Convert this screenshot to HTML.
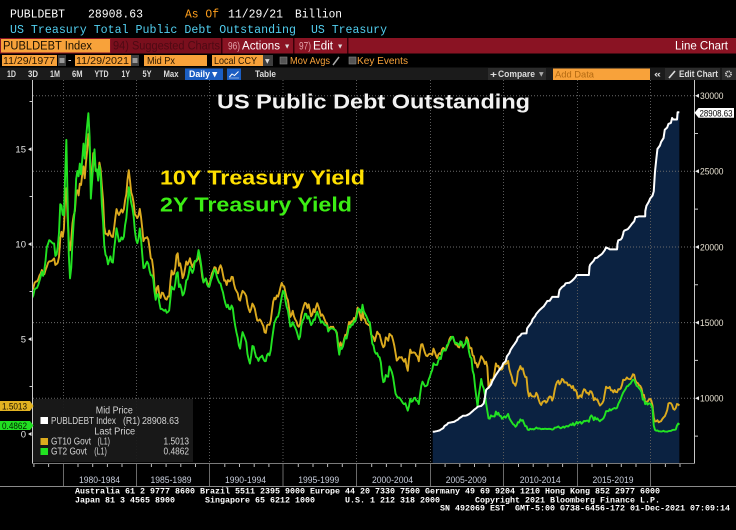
<!DOCTYPE html>
<html><head><meta charset="utf-8"><style>
html,body{margin:0;padding:0;background:#000;}
svg{display:block}
text{font-family:"Liberation Sans",sans-serif}
.mono{font-family:"Liberation Mono",monospace}
.dv{font-family:"DejaVu Sans",sans-serif}
</style></head><body>
<svg xmlns="http://www.w3.org/2000/svg" width="736" height="530" viewBox="0 0 736 530">
<defs><clipPath id="plot"><rect x="33" y="80" width="661" height="383"/></clipPath></defs>
<rect width="736" height="530" fill="#000"/>

<!-- header lines -->
<g class="mono" font-size="11.6" fill="#fff">
<text x="10" y="17.5" class="mono" textLength="55" lengthAdjust="spacingAndGlyphs">PUBLDEBT</text>
<text x="88" y="17.5" class="mono" textLength="55" lengthAdjust="spacingAndGlyphs">28908.63</text>
<text x="185" y="17.5" class="mono" fill="#ff9f1c" textLength="34" lengthAdjust="spacingAndGlyphs">As Of</text>
<text x="228" y="17.5" class="mono" textLength="55" lengthAdjust="spacingAndGlyphs">11/29/21</text>
<text x="295" y="17.5" class="mono" textLength="47" lengthAdjust="spacingAndGlyphs">Billion</text>
<text x="10" y="33" class="mono" fill="#52cff0" textLength="286" lengthAdjust="spacingAndGlyphs">US Treasury Total Public Debt Outstanding</text>
<text x="311" y="33" class="mono" fill="#52cff0" textLength="76" lengthAdjust="spacingAndGlyphs">US Treasury</text>
</g>

<!-- red bar -->
<rect x="0" y="38" width="736" height="15.5" fill="#8a1323"/>
<rect x="111" y="38" width="110" height="15.5" fill="#7a0f1d"/>
<rect x="1" y="39" width="109" height="13.5" fill="#f8a23a"/>
<rect x="221" y="38" width="1.5" height="15.5" fill="#3a0008"/>
<rect x="293" y="38" width="1.5" height="15.5" fill="#3a0008"/>
<rect x="347" y="38" width="1.5" height="15.5" fill="#3a0008"/>
<text x="3" y="49.5" font-size="11.5" fill="#1a1000" textLength="89" lengthAdjust="spacingAndGlyphs">PUBLDEBT Index</text>
<text x="113" y="49.5" font-size="11.5" fill="#4e0a14" textLength="107" lengthAdjust="spacingAndGlyphs">94) Suggested Charts</text>
<text x="228" y="49.5" font-size="11" fill="#e3a3ab" textLength="12" lengthAdjust="spacingAndGlyphs">96)</text>
<text x="242" y="49.5" font-size="11.5" fill="#fff" textLength="38" lengthAdjust="spacingAndGlyphs">Actions</text>
<text x="285" y="48" font-size="5.5" fill="#ddd" class="dv">▼</text>
<text x="299" y="49.5" font-size="11" fill="#e3a3ab" textLength="12" lengthAdjust="spacingAndGlyphs">97)</text>
<text x="313" y="49.5" font-size="11.5" fill="#fff" textLength="20" lengthAdjust="spacingAndGlyphs">Edit</text>
<text x="338" y="48" font-size="5.5" fill="#ddd" class="dv">▼</text>
<text x="675" y="49.5" font-size="12" fill="#fff" textLength="53" lengthAdjust="spacingAndGlyphs">Line Chart</text>

<!-- row 2 -->
<g font-size="10.5" fill="#2a1800">
<rect x="2" y="55" width="55" height="11" fill="#f8a23a"/>
<text x="3" y="64" textLength="52" lengthAdjust="spacingAndGlyphs">11/29/1977</text>
<rect x="58" y="55" width="8" height="11" fill="#3e3e3e"/><rect x="59.5" y="58" width="5" height="5" fill="#999"/>
<text x="68" y="63.5" fill="#fff">-</text>
<rect x="75" y="55" width="56" height="11" fill="#f8a23a"/>
<text x="76" y="64" textLength="53" lengthAdjust="spacingAndGlyphs">11/29/2021</text>
<rect x="131" y="55" width="8" height="11" fill="#3e3e3e"/><rect x="132.5" y="58" width="5" height="5" fill="#999"/>
<rect x="144" y="55" width="63" height="11" fill="#f8a23a"/>
<text x="147" y="64" textLength="28" lengthAdjust="spacingAndGlyphs">Mid Px</text>
<rect x="212" y="55" width="51" height="11" fill="#f8a23a"/>
<text x="214" y="64" textLength="43" lengthAdjust="spacingAndGlyphs">Local CCY</text>
<rect x="263" y="55" width="10" height="11" fill="#3e3e3e"/>
<text x="265" y="63" font-size="6" fill="#ddd" class="dv">▼</text>
<rect x="280" y="57" width="7" height="7" fill="#555" stroke="#888" stroke-width="0.6"/>
<text x="290" y="64" fill="#f8a23a" textLength="40" lengthAdjust="spacingAndGlyphs">Mov Avgs</text>
<line x1="333" y1="65" x2="339" y2="57" stroke="#aaa" stroke-width="1.5"/>
<rect x="349" y="57" width="7" height="7" fill="#555" stroke="#888" stroke-width="0.6"/>
<text x="357" y="64" fill="#f8a23a" textLength="51" lengthAdjust="spacingAndGlyphs">Key Events</text>
</g>

<!-- row 3 -->
<rect x="0" y="67.5" width="736" height="12.5" fill="#1b1b1b"/>
<g font-size="9" font-weight="bold" fill="#dcdcdc">
<text x="7" y="77" textLength="9" lengthAdjust="spacingAndGlyphs">1D</text>
<text x="28" y="77" textLength="10" lengthAdjust="spacingAndGlyphs">3D</text>
<text x="50" y="77" textLength="10" lengthAdjust="spacingAndGlyphs">1M</text>
<text x="72" y="77" textLength="10.5" lengthAdjust="spacingAndGlyphs">6M</text>
<text x="94.5" y="77" textLength="14" lengthAdjust="spacingAndGlyphs">YTD</text>
<text x="121.5" y="77" textLength="8.5" lengthAdjust="spacingAndGlyphs">1Y</text>
<text x="142.5" y="77" textLength="9" lengthAdjust="spacingAndGlyphs">5Y</text>
<text x="163.5" y="77" textLength="15" lengthAdjust="spacingAndGlyphs">Max</text>
<rect x="185" y="68.5" width="38" height="11.5" fill="#1b5ec2"/>
<text x="189" y="77" fill="#fff" textLength="21" lengthAdjust="spacingAndGlyphs">Daily</text>
<text x="212" y="76.5" font-size="7" fill="#fff" class="dv" font-weight="normal">▼</text>
<rect x="227" y="68.5" width="14" height="11.5" fill="#1b5ec2"/>
<polyline points="229.5,77 232,74 234.5,75.5 238.5,71.5" fill="none" stroke="#fff" stroke-width="1"/>
<line x1="229" y1="78" x2="239" y2="78" stroke="#cde" stroke-width="0.6"/>
<text x="255" y="77" textLength="21" lengthAdjust="spacingAndGlyphs">Table</text>
<rect x="488" y="68" width="58" height="12" fill="#2c2c2c"/>
<text x="490" y="77.5" textLength="7" lengthAdjust="spacingAndGlyphs">+</text>
<text x="498" y="77" textLength="37" lengthAdjust="spacingAndGlyphs">Compare</text>
<text x="539" y="76" font-size="6" fill="#aaa" class="dv" font-weight="normal">▼</text>
<rect x="553" y="68.5" width="97" height="11.5" fill="#f8a23a"/>
<text x="555" y="77.5" font-weight="normal" fill="#b36a12" textLength="39" lengthAdjust="spacingAndGlyphs">Add Data</text>
<text x="654" y="77" textLength="7" lengthAdjust="spacingAndGlyphs">«</text>
<rect x="665" y="68" width="55" height="12" fill="#2c2c2c"/>
<line x1="669" y1="78" x2="675" y2="71" stroke="#ddd" stroke-width="1.6"/>
<text x="679" y="77" textLength="39" lengthAdjust="spacingAndGlyphs">Edit Chart</text>
<rect x="722" y="68" width="14" height="12" fill="#2c2c2c"/>
<circle cx="728.5" cy="74" r="2.6" fill="none" stroke="#ccc" stroke-width="1.8" stroke-dasharray="1.3,0.7"/>
</g>

<!-- debt area -->
<g clip-path="url(#plot)">
<polygon transform="translate(19.857,549.6) scale(1.22375,-0.01513)" fill="#0b2241" points="337.4,7790 339,7800 341,7836 343,7880 344,7933 346,8030 347,8170 349,8270 350,8371 352,8400 353,8420 355,8450 356,8507 358,8590 359,8680 361,8780 362,8849 364,8850 365,8867 367,8950 368,9008 370,9150 371,9229 373,9350 374,9437 376,9480 377,9492 379,9650 380,10025 381,10550 382,10640 383,10700 385,10900 386,11127 388,11400 389,11545 391,11780 392,11910 393,12000 394,12100 395,12311 397,12450 398,12773 400,12990 401,13202 403,13450 404,13562 406,13800 407,14025 409,14150 410,14270 412,14294 414,14294 414.5,14620 416,14790 418,15000 419,15223 421,15420 422,15582 424,15770 425,15856 427,16000 428,16066 430,16300 431,16433 433,16450 435,16700 440,16700 440.7,17050 441,17156 443,17352 445,17460 446,17601 448,17630 449,17632 451,17750 452,17824 454,18000 455,18141 457,18150 458,18152 465,18152 465.5,18700 466,18827 467,18922 469,19100 470,19264 472,19300 473,19381 475,19500 476,19573 478,19800 479,19977 481,19900 482,19847 488,19847 488.3,20200 489,20442 491,20493 492,20600 493,20856 493.3,21000 494,21090 496,21150 497,21195 499,21400 500,21516 502,21700 503,21974 505,22000 506,22028 511,22028 511.1,22380 512,22719 514,23000 515,23201 517,23400 518,23686 519,24974 520,25747 521,26477 523,26700 524,26945 526,27200 527,27748 529,27900 530,28133 532,28200 533,28530 534,28427 537,28428 537.5,28908 538.9,28908.63 538.9,5600 337.4,5600"/>
</g>

<!-- grid -->
<g stroke="#6b6b6b" stroke-width="1" stroke-dasharray="1,2">
<line x1="33" y1="95.7" x2="694" y2="95.7"/>
<line x1="33" y1="171.3" x2="694" y2="171.3"/>
<line x1="33" y1="247" x2="694" y2="247"/>
<line x1="33" y1="322.6" x2="694" y2="322.6"/>
<line x1="33" y1="398.3" x2="694" y2="398.3"/>
</g>
<g stroke="#5a5a5a" stroke-width="1" stroke-dasharray="1,2">
<line x1="63.5" y1="80" x2="63.5" y2="463"/>
<line x1="136.5" y1="80" x2="136.5" y2="463"/>
<line x1="209.5" y1="80" x2="209.5" y2="463"/>
<line x1="283" y1="80" x2="283" y2="463"/>
<line x1="356.5" y1="80" x2="356.5" y2="463"/>
<line x1="430.5" y1="80" x2="430.5" y2="463"/>
<line x1="503.5" y1="80" x2="503.5" y2="463"/>
<line x1="577.5" y1="80" x2="577.5" y2="463"/>
<line x1="650.5" y1="80" x2="650.5" y2="463"/>
</g>
<g stroke="#6a6a6a" stroke-width="1">
<line x1="63.5" y1="463" x2="63.5" y2="486"/>
<line x1="136.5" y1="463" x2="136.5" y2="486"/>
<line x1="209.5" y1="463" x2="209.5" y2="486"/>
<line x1="283" y1="463" x2="283" y2="486"/>
<line x1="356.5" y1="463" x2="356.5" y2="486"/>
<line x1="430.5" y1="463" x2="430.5" y2="486"/>
<line x1="503.5" y1="463" x2="503.5" y2="486"/>
<line x1="577.5" y1="463" x2="577.5" y2="486"/>
<line x1="650.5" y1="463" x2="650.5" y2="486"/>
</g>

<!-- yields -->
<g clip-path="url(#plot)" fill="none" stroke-linejoin="round">
<polyline transform="translate(19.857,434) scale(1.22375,-18.98)" vector-effect="non-scaling-stroke" stroke="#dcaa1e" stroke-width="1.9" points="10,7.58 11,7.69 12,7.96 13,8.03 14,8.04 15,8.15 16,8.35 17,8.46 18,8.64 19,8.41 20,8.42 21,8.64 22,8.81 23,9.01 24,9.10 25,9.10 26,9.12 27,9.18 28,9.25 29,8.91 30,8.95 31,9.03 32,9.33 33,10.30 34,10.65 35,10.39 36,10.80 37,12.41 38,12.95 39,11.47 40,10.18 41,9.68 42,10.25 43,11.10 44,11.51 45,11.75 46,12.68 47,12.84 48,12.57 49,13.19 50,13.12 51,13.68 52,14.10 53,13.47 54,14.28 55,14.94 56,15.80 57,15.15 58,13.39 59,13.72 60,14.80 61,14.43 62,13.86 63,13.87 64,13.62 65,14.30 66,13.95 67,13.06 68,12.34 69,10.91 70,10.55 71,10.54 72,10.46 73,10.72 74,10.51 75,10.40 76,10.38 77,10.85 78,11.38 79,11.85 80,11.65 81,11.54 82,11.69 83,11.83 84,11.67 85,11.84 86,12.32 87,12.63 88,13.41 89,13.90 90,13.36 91,12.72 92,12.52 93,12.16 94,11.57 95,11.50 96,11.38 97,11.51 98,11.86 99,11.43 100,10.85 101,10.16 102,10.31 103,10.33 104,10.37 105,10.24 106,9.78 107,9.26 108,9.19 109,8.70 110,7.78 111,7.30 112,7.71 113,7.80 114,7.30 115,7.17 116,7.45 117,7.43 118,7.25 119,7.11 120,7.08 121,7.25 122,7.25 123,8.02 124,8.61 125,8.40 126,8.45 127,8.76 128,9.42 129,9.52 130,8.86 131,8.99 132,8.67 133,8.21 134,8.37 135,8.72 136,9.09 137,8.92 138,9.06 139,9.26 140,8.98 141,8.80 142,8.96 143,9.11 144,9.09 145,9.17 146,9.36 147,9.18 148,8.86 149,8.28 150,8.02 151,8.11 152,8.19 153,8.01 154,7.87 155,7.84 156,8.21 157,8.47 158,8.59 159,8.79 160,8.76 161,8.48 162,8.47 163,8.75 164,8.89 165,8.72 166,8.39 167,8.08 168,8.09 169,7.85 170,8.11 171,8.04 172,8.07 173,8.28 174,8.27 175,7.90 176,7.65 177,7.53 178,7.42 179,7.09 180,7.03 181,7.34 182,7.54 183,7.48 184,7.39 185,7.26 186,6.84 187,6.59 188,6.42 189,6.59 190,6.87 191,6.77 192,6.60 193,6.26 194,5.98 195,5.97 196,6.04 197,5.96 198,5.81 199,5.68 200,5.36 201,5.33 202,5.72 203,5.77 204,5.75 205,5.97 206,6.48 207,6.97 208,7.18 209,7.10 210,7.30 211,7.24 212,7.46 213,7.74 214,7.96 215,7.81 216,7.78 217,7.47 218,7.20 219,7.06 220,6.63 221,6.17 222,6.28 223,6.49 224,6.20 225,6.04 226,5.93 227,5.71 228,5.65 229,5.81 230,6.27 231,6.51 232,6.74 233,6.91 234,6.87 235,6.64 236,6.83 237,6.53 238,6.20 239,6.30 240,6.58 241,6.42 242,6.69 243,6.89 244,6.71 245,6.49 246,6.22 247,6.30 248,6.21 249,6.03 250,5.88 251,5.81 252,5.54 253,5.57 254,5.65 255,5.64 256,5.65 257,5.50 258,5.46 259,5.34 260,4.81 261,4.53 262,4.83 263,4.65 264,4.72 265,5.00 266,5.23 267,5.18 268,5.54 269,5.90 270,5.79 271,5.94 272,5.92 273,6.11 274,6.03 275,6.28 276,6.66 277,6.52 278,6.26 279,5.99 280,6.44 281,6.10 282,6.05 283,5.83 284,5.80 285,5.74 286,5.72 287,5.24 288,5.16 289,5.10 290,4.89 291,5.14 292,5.39 293,5.28 294,5.24 295,4.97 296,4.73 297,4.57 298,4.65 299,5.09 300,5.04 301,4.91 302,5.28 303,5.21 304,5.16 305,4.93 306,4.65 307,4.26 308,3.87 309,3.94 310,4.05 311,4.03 312,4.05 313,3.90 314,3.81 315,3.96 316,3.57 317,3.33 318,3.98 319,4.45 320,4.27 321,4.29 322,4.30 323,4.27 324,4.15 325,4.08 326,3.83 327,4.35 328,4.72 329,4.73 330,4.50 331,4.28 332,4.13 333,4.10 334,4.19 335,4.23 336,4.22 337,4.17 338,4.50 339,4.34 340,4.14 341,4.00 342,4.18 343,4.26 344,4.20 345,4.46 346,4.54 347,4.47 348,4.42 349,4.57 350,4.72 351,4.99 352,5.11 353,5.11 354,5.09 355,4.88 356,4.72 357,4.73 358,4.60 359,4.56 360,4.76 361,4.72 362,4.56 363,4.69 364,4.75 365,5.10 366,5.00 367,4.67 368,4.52 369,4.53 370,4.15 371,4.10 372,3.74 373,3.74 374,3.51 375,3.68 376,3.88 377,4.10 378,4.01 379,3.89 380,3.69 381,3.81 382,3.53 383,2.42 384,2.52 385,2.87 386,2.82 387,2.93 388,3.29 389,3.72 390,3.56 391,3.59 392,3.40 393,3.39 394,3.40 395,3.59 396,3.73 397,3.69 398,3.73 399,3.85 400,3.42 401,3.20 402,3.01 403,2.70 404,2.65 405,2.54 406,2.76 407,3.29 408,3.39 409,3.58 410,3.41 411,3.46 412,3.17 413,3.00 414,3.00 415,2.30 416,1.98 417,2.15 418,2.01 419,1.98 420,1.97 421,1.97 422,2.17 423,2.05 424,1.80 425,1.62 426,1.53 427,1.68 428,1.72 429,1.75 430,1.65 431,1.72 432,1.91 433,1.98 434,1.96 435,1.76 436,1.93 437,2.30 438,2.58 439,2.74 440,2.81 441,2.62 442,2.72 443,2.90 444,2.86 445,2.71 446,2.72 447,2.71 448,2.56 449,2.60 450,2.54 451,2.42 452,2.53 453,2.30 454,2.33 455,2.21 456,1.88 457,1.98 458,2.04 459,1.94 460,2.20 461,2.36 462,2.32 463,2.17 464,2.17 465,2.07 466,2.26 467,2.24 468,2.09 469,1.78 470,1.89 471,1.81 472,1.81 473,1.64 474,1.50 475,1.56 476,1.63 477,1.76 478,2.14 479,2.49 480,2.43 481,2.42 482,2.48 483,2.30 484,2.30 485,2.19 486,2.32 487,2.21 488,2.20 489,2.36 490,2.35 491,2.40 492,2.58 493,2.86 494,2.84 495,2.87 496,2.98 497,2.91 498,2.89 499,2.89 500,3.00 501,3.15 502,3.12 503,2.83 504,2.71 505,2.68 506,2.57 507,2.53 508,2.40 509,2.07 510,2.06 511,1.63 512,1.70 513,1.71 514,1.81 515,1.86 516,1.76 517,1.50 518,0.87 519,0.66 520,0.67 521,0.73 522,0.62 523,0.65 524,0.68 525,0.79 526,0.87 527,0.93 528,1.08 529,1.26 530,1.61 531,1.64 532,1.62 533,1.52 534,1.32 535,1.28 536,1.37 537,1.58 538,1.56 538.9,1.50"/>
<polyline transform="translate(19.857,434) scale(1.22375,-18.98)" vector-effect="non-scaling-stroke" stroke="#22e322" stroke-width="1.9" points="10,7.16 11,7.30 12,7.61 13,7.67 14,7.70 15,7.85 16,8.07 17,8.30 18,8.54 19,8.33 20,8.64 21,9.14 22,9.84 23,10.01 24,10.21 25,10.17 26,10.10 27,10.04 28,10.04 29,9.38 30,9.46 31,9.86 32,10.61 33,12.11 34,12.04 35,11.55 36,11.53 37,13.61 38,15.50 39,12.41 40,9.43 41,8.20 42,8.77 43,10.11 44,11.19 45,11.92 46,13.43 47,13.86 48,13.58 49,14.25 50,13.68 51,14.47 52,15.30 53,14.51 54,15.54 55,16.25 56,16.90 57,15.65 58,12.40 59,13.29 60,14.32 61,15.00 62,13.85 63,13.94 64,13.35 65,14.14 66,13.61 67,12.08 68,11.18 69,9.91 70,9.45 71,9.33 72,8.94 73,9.16 74,9.36 75,9.07 76,9.03 77,9.72 78,10.26 79,10.84 80,10.50 81,10.14 82,10.17 83,10.36 84,10.25 85,10.40 86,11.01 87,11.37 88,12.13 89,13.00 90,12.57 91,12.18 92,11.91 93,11.46 94,10.70 95,10.24 96,10.05 97,10.30 98,10.83 99,10.27 100,9.48 101,8.74 102,8.77 103,8.96 104,9.08 105,8.96 106,8.61 107,8.37 108,8.36 109,8.17 110,7.52 111,7.07 112,7.34 113,7.37 114,6.91 115,6.59 116,6.59 117,6.54 118,6.49 119,6.55 120,6.39 121,6.43 122,6.51 123,7.13 124,7.77 125,7.64 126,7.61 127,7.92 128,8.45 129,8.52 130,7.74 131,7.88 132,7.65 133,7.30 134,7.39 135,7.66 136,8.10 137,8.16 138,8.44 139,8.82 140,8.65 141,8.49 142,8.66 143,9.10 144,9.11 145,9.27 146,9.69 147,9.40 148,8.98 149,8.47 150,7.98 151,8.10 152,8.20 153,7.88 154,7.76 155,7.79 156,8.06 157,8.24 158,8.47 159,8.67 160,8.57 161,8.29 162,8.11 163,7.97 164,7.92 165,7.66 166,7.46 167,7.13 168,6.87 169,6.68 170,6.81 171,6.59 172,6.57 173,6.77 174,6.63 175,6.09 176,5.69 177,5.35 178,5.08 179,4.66 180,4.50 181,5.02 182,5.37 183,5.21 184,5.04 185,4.84 186,4.21 187,3.93 188,3.71 189,4.11 190,4.64 191,4.61 192,4.32 193,4.06 194,4.01 195,3.85 196,4.02 197,4.06 198,4.13 199,3.95 200,3.84 201,3.84 202,4.16 203,4.24 204,4.14 205,4.42 206,4.96 207,5.41 208,5.85 209,6.01 210,6.15 211,6.19 212,6.45 213,6.87 214,7.23 215,7.54 216,7.48 217,7.05 218,6.70 219,6.52 220,6.10 221,5.66 222,5.70 223,5.89 224,5.74 225,5.61 226,5.45 227,5.22 228,4.99 229,5.14 230,5.72 231,5.96 232,6.08 233,6.34 234,6.33 235,6.08 236,6.20 237,5.95 238,5.74 239,5.84 240,6.03 241,6.01 242,6.29 243,6.44 244,6.22 245,6.09 246,5.86 247,5.94 248,5.86 249,5.76 250,5.72 251,5.72 252,5.40 253,5.50 254,5.56 255,5.56 256,5.55 257,5.51 258,5.46 259,5.27 260,4.62 261,4.18 262,4.57 263,4.48 264,4.61 265,4.90 266,5.11 267,5.03 268,5.33 269,5.70 270,5.62 271,5.77 272,5.75 273,5.94 274,5.92 275,6.13 276,6.48 277,6.60 278,6.53 279,6.40 280,6.81 281,6.48 282,6.34 283,6.23 284,6.08 285,5.91 286,5.88 287,5.35 288,4.76 289,4.66 290,4.34 291,4.23 292,4.26 293,4.08 294,4.04 295,3.76 296,3.12 297,2.73 298,2.78 299,3.11 300,3.03 301,3.02 302,3.56 303,3.42 304,3.26 305,2.99 306,2.56 307,2.13 308,2.00 309,1.91 310,1.92 311,1.84 312,1.74 313,1.63 314,1.57 315,1.62 316,1.42 317,1.23 318,1.47 319,1.86 320,1.70 321,1.73 322,1.89 323,1.91 324,1.76 325,1.74 326,1.58 327,2.07 328,2.53 329,2.76 330,2.64 331,2.51 332,2.53 333,2.58 334,2.85 335,3.01 336,3.22 337,3.38 338,3.73 339,3.65 340,3.64 341,3.64 342,3.87 343,4.04 344,3.95 345,4.27 346,4.42 347,4.40 348,4.40 349,4.67 350,4.73 351,4.89 352,4.97 353,5.12 354,5.12 355,4.90 356,4.77 357,4.80 358,4.74 359,4.67 360,4.88 361,4.85 362,4.57 363,4.67 364,4.77 365,4.96 366,4.82 367,4.34 368,4.06 369,3.99 370,3.34 371,3.12 372,2.48 373,1.97 374,1.45 375,2.05 376,2.45 377,2.90 378,2.57 379,2.42 380,2.08 381,1.61 382,1.21 383,0.82 384,0.81 385,0.98 386,0.93 387,0.93 388,0.92 389,1.18 390,1.02 391,1.12 392,0.96 393,0.95 394,0.80 395,0.87 396,0.93 397,0.86 398,0.96 399,1.06 400,0.83 401,0.72 402,0.62 403,0.52 404,0.48 405,0.38 406,0.45 407,0.62 408,0.61 409,0.77 410,0.70 411,0.73 412,0.56 413,0.41 414,0.41 415,0.23 416,0.21 417,0.28 418,0.25 419,0.26 420,0.24 421,0.28 422,0.34 423,0.29 424,0.29 425,0.29 426,0.25 427,0.27 428,0.26 429,0.28 430,0.27 431,0.26 432,0.27 433,0.27 434,0.26 435,0.23 436,0.25 437,0.33 438,0.34 439,0.36 440,0.40 441,0.34 442,0.30 443,0.34 444,0.39 445,0.33 446,0.40 447,0.42 448,0.39 449,0.45 450,0.51 451,0.47 452,0.57 453,0.45 454,0.53 455,0.64 456,0.55 457,0.62 458,0.64 459,0.54 460,0.61 461,0.69 462,0.67 463,0.70 464,0.71 465,0.64 466,0.88 467,0.98 468,0.90 469,0.73 470,0.88 471,0.77 472,0.82 473,0.73 474,0.67 475,0.74 476,0.77 477,0.84 478,0.98 479,1.20 480,1.21 481,1.20 482,1.31 483,1.24 484,1.30 485,1.34 486,1.37 487,1.34 488,1.38 489,1.58 490,1.71 491,1.84 492,2.03 493,2.18 494,2.28 495,2.38 496,2.51 497,2.53 498,2.61 499,2.65 500,2.77 501,2.86 502,2.86 503,2.68 504,2.54 505,2.50 506,2.41 507,2.34 508,2.21 509,1.81 510,1.84 511,1.57 512,1.65 513,1.55 514,1.61 515,1.61 516,1.52 517,1.33 518,0.45 519,0.22 520,0.17 521,0.19 522,0.14 523,0.14 524,0.13 525,0.14 526,0.17 527,0.13 528,0.13 529,0.12 530,0.15 531,0.16 532,0.16 533,0.20 534,0.22 535,0.22 536,0.24 537,0.45 538,0.55 538.9,0.49"/>
<polyline transform="translate(19.857,549.6) scale(1.22375,-0.01513)" vector-effect="non-scaling-stroke" stroke="#fff" stroke-width="2" points="337.4,7790 339,7800 341,7836 343,7880 344,7933 346,8030 347,8170 349,8270 350,8371 352,8400 353,8420 355,8450 356,8507 358,8590 359,8680 361,8780 362,8849 364,8850 365,8867 367,8950 368,9008 370,9150 371,9229 373,9350 374,9437 376,9480 377,9492 379,9650 380,10025 381,10550 382,10640 383,10700 385,10900 386,11127 388,11400 389,11545 391,11780 392,11910 393,12000 394,12100 395,12311 397,12450 398,12773 400,12990 401,13202 403,13450 404,13562 406,13800 407,14025 409,14150 410,14270 412,14294 414,14294 414.5,14620 416,14790 418,15000 419,15223 421,15420 422,15582 424,15770 425,15856 427,16000 428,16066 430,16300 431,16433 433,16450 435,16700 440,16700 440.7,17050 441,17156 443,17352 445,17460 446,17601 448,17630 449,17632 451,17750 452,17824 454,18000 455,18141 457,18150 458,18152 465,18152 465.5,18700 466,18827 467,18922 469,19100 470,19264 472,19300 473,19381 475,19500 476,19573 478,19800 479,19977 481,19900 482,19847 488,19847 488.3,20200 489,20442 491,20493 492,20600 493,20856 493.3,21000 494,21090 496,21150 497,21195 499,21400 500,21516 502,21700 503,21974 505,22000 506,22028 511,22028 511.1,22380 512,22719 514,23000 515,23201 517,23400 518,23686 519,24974 520,25747 521,26477 523,26700 524,26945 526,27200 527,27748 529,27900 530,28133 532,28200 533,28530 534,28427 537,28428 537.5,28908 538.9,28908.63"/>
</g>

<!-- axes -->
<line x1="32.5" y1="80" x2="32.5" y2="463.5" stroke="#c8c8c8" stroke-width="1"/>
<line x1="694.5" y1="80" x2="694.5" y2="463.5" stroke="#c8c8c8" stroke-width="1"/>
<line x1="32" y1="463.5" x2="695" y2="463.5" stroke="#7a7a7a" stroke-width="1"/>
<path stroke="#bdbdbd" stroke-width="1" d="M33.9 464V467M48.6 464V467M78 464V467M92.7 464V467M107.4 464V467M122 464V467M151.4 464V467M166.1 464V467M180.8 464V467M195.5 464V467M224.8 464V467M239.5 464V467M254.2 464V467M268.9 464V467M298.3 464V467M313 464V467M327.6 464V467M342.3 464V467M371.7 464V467M386.4 464V467M401.1 464V467M415.7 464V467M445.1 464V467M459.8 464V467M474.5 464V467M489.2 464V467M518.5 464V467M533.2 464V467M547.9 464V467M562.6 464V467M592 464V467M606.6 464V467M621.3 464V467M636 464V467M665.4 464V467M680 464V467"/>
<!-- left minor ticks -->
<path stroke="#c8c8c8" stroke-width="1" d="M29.5 101.5H32M29.5 196.5H32M29.5 291.5H32M29.5 386.5H32"/>
<g fill="#e6e6e6">
<polygon points="28,149.2 31.5,147.2 31.5,151.2"/>
<polygon points="28,244.1 31.5,242.1 31.5,246.1"/>
<polygon points="28,339.1 31.5,337.1 31.5,341.1"/>
<polygon points="28,434 31.5,432 31.5,436"/>
</g>
<g font-size="9.5" fill="#e4e4e4" text-anchor="end">
<text x="26" y="152.5">15</text>
<text x="26" y="247.5">10</text>
<text x="26" y="342.5">5</text>
<text x="26" y="437.5">0</text>
</g>
<!-- right axis -->
<path stroke="#c8c8c8" stroke-width="1" d="M695 133.5H698M695 209.1H698M695 284.8H698M695 360.4H698M695 436.1H698"/>
<g fill="#e6e6e6">
<polygon points="695,95.7 699,93.7 699,97.7"/>
<polygon points="695,171.3 699,169.3 699,173.3"/>
<polygon points="695,247 699,245 699,249"/>
<polygon points="695,322.6 699,320.6 699,324.6"/>
<polygon points="695,398.3 699,396.3 699,400.3"/>
</g>
<g font-size="9.5" fill="#e8e2d2">
<text x="700" y="99" textLength="23.5" lengthAdjust="spacingAndGlyphs">30000</text>
<text x="700" y="174.6" textLength="23.5" lengthAdjust="spacingAndGlyphs">25000</text>
<text x="700" y="250.3" textLength="23.5" lengthAdjust="spacingAndGlyphs">20000</text>
<text x="700" y="325.9" textLength="23.5" lengthAdjust="spacingAndGlyphs">15000</text>
<text x="700" y="401.6" textLength="23.5" lengthAdjust="spacingAndGlyphs">10000</text>
</g>
<polygon points="694.5,112.8 698.5,108 734,108 734,117.8 698.5,117.8" fill="#fff"/>
<text x="699.5" y="116.3" font-size="9.5" fill="#000" textLength="33" lengthAdjust="spacingAndGlyphs">28908.63</text>

<!-- x labels -->
<g font-size="9.5" fill="#c9cfdd" text-anchor="middle">
<text x="99.5" y="483" textLength="41" lengthAdjust="spacingAndGlyphs">1980-1984</text>
<text x="171" y="483" textLength="41" lengthAdjust="spacingAndGlyphs">1985-1989</text>
<text x="245.5" y="483" textLength="41" lengthAdjust="spacingAndGlyphs">1990-1994</text>
<text x="318.7" y="483" textLength="41" lengthAdjust="spacingAndGlyphs">1995-1999</text>
<text x="392.5" y="483" textLength="41" lengthAdjust="spacingAndGlyphs">2000-2004</text>
<text x="466.2" y="483" textLength="41" lengthAdjust="spacingAndGlyphs">2005-2009</text>
<text x="540.2" y="483" textLength="41" lengthAdjust="spacingAndGlyphs">2010-2014</text>
<text x="613" y="483" textLength="41" lengthAdjust="spacingAndGlyphs">2015-2019</text>
</g>

<!-- annotations -->
<text x="217" y="108.7" font-size="20.5" font-weight="bold" fill="#f2f2f2" textLength="313" lengthAdjust="spacingAndGlyphs">US Public Debt Outstanding</text>
<text x="160" y="184.7" font-size="20.5" font-weight="bold" fill="#ffe000" textLength="205" lengthAdjust="spacingAndGlyphs">10Y Treasury Yield</text>
<text x="160" y="211.3" font-size="20.5" font-weight="bold" fill="#3cee14" textLength="192" lengthAdjust="spacingAndGlyphs">2Y Treasury Yield</text>

<!-- legend -->
<rect x="33" y="399" width="160" height="63" fill="#1a1a1a" fill-opacity="0.93"/>
<g font-size="10" fill="#d4d4d4">
<text x="114.3" y="413.5" text-anchor="middle" textLength="37" lengthAdjust="spacingAndGlyphs">Mid Price</text>
<rect x="40.5" y="417" width="7.5" height="7" fill="#fff"/>
<text x="51" y="423.8" textLength="65" lengthAdjust="spacingAndGlyphs">PUBLDEBT Index</text>
<text x="123" y="423.8" textLength="17" lengthAdjust="spacingAndGlyphs">(R1)</text>
<text x="142" y="423.8" textLength="37" lengthAdjust="spacingAndGlyphs">28908.63</text>
<text x="114.7" y="434.3" text-anchor="middle" textLength="41" lengthAdjust="spacingAndGlyphs">Last Price</text>
<rect x="40.5" y="438" width="7.5" height="7" fill="#dcab1e"/>
<text x="51" y="444.6" textLength="40" lengthAdjust="spacingAndGlyphs">GT10 Govt</text>
<text x="97.5" y="444.6" textLength="12.5" lengthAdjust="spacingAndGlyphs">(L1)</text>
<text x="189" y="444.6" text-anchor="end" textLength="25.5" lengthAdjust="spacingAndGlyphs">1.5013</text>
<rect x="40.5" y="448" width="7.5" height="7" fill="#22e322"/>
<text x="51" y="454.6" textLength="36" lengthAdjust="spacingAndGlyphs">GT2 Govt</text>
<text x="94.3" y="454.6" textLength="12.5" lengthAdjust="spacingAndGlyphs">(L1)</text>
<text x="189" y="454.6" text-anchor="end" textLength="25.5" lengthAdjust="spacingAndGlyphs">0.4862</text>
</g>

<!-- left value flags -->
<polygon points="0,401 30,401 33.5,406 30,411 0,411" fill="#e2b322"/>
<text x="2" y="409.3" font-size="9.5" fill="#1a1200" textLength="25" lengthAdjust="spacingAndGlyphs">1.5013</text>
<polygon points="0,421 30,421 33.5,425.5 30,430 0,430" fill="#22e022"/>
<text x="2" y="429" font-size="9.5" fill="#002000" textLength="25" lengthAdjust="spacingAndGlyphs">0.4862</text>

<!-- footer -->
<line x1="0" y1="486.5" x2="736" y2="486.5" stroke="#8a8a8a" stroke-width="1"/>
<g class="mono" font-size="8.33" font-weight="bold" fill="#fff" style="white-space:pre">
<text x="75" y="493.6" class="mono" textLength="585" lengthAdjust="spacingAndGlyphs">Australia 61 2 9777 8600 Brazil 5511 2395 9000 Europe 44 20 7330 7500 Germany 49 69 9204 1210 Hong Kong 852 2977 6000</text>
<text x="75" y="502.3" class="mono" textLength="585" lengthAdjust="spacingAndGlyphs" style="white-space:pre">Japan 81 3 4565 8900      Singapore 65 6212 1000      U.S. 1 212 318 2000       Copyright 2021 Bloomberg Finance L.P.</text>
<text x="440" y="510.7" class="mono" textLength="290" lengthAdjust="spacingAndGlyphs" style="white-space:pre">SN 492069 EST  GMT-5:00 G738-6456-172 01-Dec-2021 07:09:14</text>
</g>
</svg>
</body></html>
